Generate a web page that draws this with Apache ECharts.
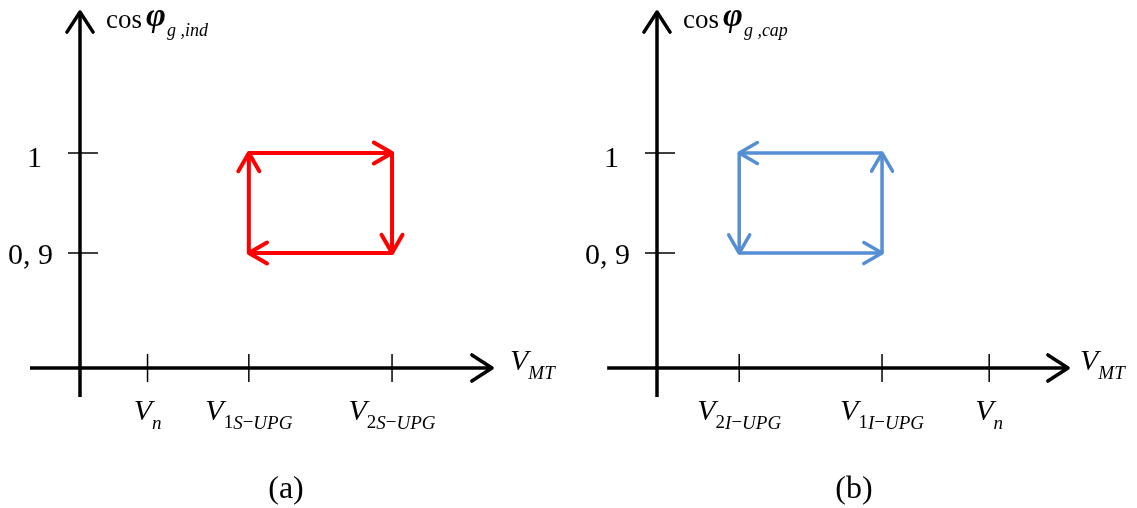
<!DOCTYPE html>
<html>
<head>
<meta charset="utf-8">
<script src="https://cdn.jsdelivr.net/npm/echarts@6/dist/echarts.min.js"></script>
<style>
  html, body { margin: 0; padding: 0; background: #fff; }
  #chart { width: 1137px; height: 508px; }
</style>
</head>
<body>
<div id="chart"></div>
<script>
// Grid-side power factor regulation loops versus MT voltage:
// (a) inductive cos phi, (b) capacitive cos phi.

// ---- data ----
const yTickValues = [0.9, 1];
const yTickLabels = ['0, 9', '1'];

const xTicksInd = [1.0, 2.5, 4.62];
const xLabelsInd = ['{v|V}{i|n}', '{v|V}{n|1}{i|S}{n|\u2212}{i|UPG}', '{v|V}{n|2}{i|S}{n|\u2212}{i|UPG}'];

const xTicksCap = [1.22, 3.34, 4.93];
const xLabelsCap = ['{v|V}{n|2}{i|I}{n|\u2212}{i|UPG}', '{v|V}{n|1}{i|I}{n|\u2212}{i|UPG}', '{v|V}{i|n}'];

// loop corners [voltage, cos phi], traversed in order (arrow at the end of each edge)
const loopInd = [[2.5, 0.9], [2.5, 1], [4.62, 1], [4.62, 0.9]];
const loopCap = [[3.34, 0.9], [3.34, 1], [1.22, 1], [1.22, 0.9]];

// axis extents
const xRange = [0, 6.1];
const yRange = [0.785, 1.141];
const xAxisStart = -0.74;
const yAxisStart = 0.756;

// ---- styling helpers ----
const serif = '"Liberation Serif", "Times New Roman", serif';
const richMath = {
  v: { fontFamily: serif, fontStyle: 'italic', fontSize: 30, lineHeight: 30, padding: [0, 0, 6, 0], verticalAlign: 'bottom', color: '#000' },
  i: { fontFamily: serif, fontStyle: 'italic', fontSize: 19, lineHeight: 19, verticalAlign: 'bottom', color: '#000' },
  n: { fontFamily: serif, fontSize: 19, lineHeight: 19, verticalAlign: 'bottom', color: '#000' }
};
const richY = {
  t: { fontFamily: serif, fontSize: 30, color: '#000', padding: [6, 0, 0, 0] },
  one: { fontFamily: serif, fontSize: 30, color: '#000', padding: [12, 11, 0, 0] }
};
const richName = {
  c: { fontFamily: serif, fontSize: 27, lineHeight: 27, padding: [0, 4, 6, 0], verticalAlign: 'bottom', color: '#000' },
  p: { fontFamily: serif, fontSize: 34, fontStyle: 'italic', fontWeight: 'bold', lineHeight: 34, padding: [0, 1, 6, 0], verticalAlign: 'bottom', color: '#000' },
  s: { fontFamily: serif, fontSize: 18, fontStyle: 'italic', lineHeight: 18, verticalAlign: 'bottom', color: '#000' }
};

function lookup(values, labels) {
  return function (v) {
    for (let k = 0; k < values.length; k++) {
      if (Math.abs(values[k] - v) < 1e-6) return labels[k];
    }
    return '';
  };
}

// line segment with an open chevron head at its end
function arrowRenderer(color, width, head, angleDeg) {
  const ang = angleDeg * Math.PI / 180;
  const c = Math.cos(ang), s = Math.sin(ang);
  return function (params, api) {
    const p1 = api.coord([api.value(0), api.value(1)]);
    const p2 = api.coord([api.value(2), api.value(3)]);
    const dx = p2[0] - p1[0], dy = p2[1] - p1[1];
    const len = Math.sqrt(dx * dx + dy * dy) || 1;
    const ux = dx / len, uy = dy / len;
    const a1 = [p2[0] - head * (ux * c - uy * s), p2[1] - head * (uy * c + ux * s)];
    const a2 = [p2[0] - head * (ux * c + uy * s), p2[1] - head * (uy * c - ux * s)];
    return {
      type: 'group',
      children: [
        { type: 'line', shape: { x1: p1[0], y1: p1[1], x2: p2[0], y2: p2[1] },
          style: { stroke: color, lineWidth: width, lineCap: 'butt' } },
        { type: 'polyline', shape: { points: [a1, p2, a2] },
          style: { stroke: color, fill: null, lineWidth: width, lineJoin: 'round', lineCap: 'round' } }
      ]
    };
  };
}

// short tick crossing an axis
function tickRenderer(dir, before, after) {
  return function (params, api) {
    const p = api.coord([api.value(0), api.value(1)]);
    const shape = dir === 'x'
      ? { x1: p[0], y1: p[1] - before, x2: p[0], y2: p[1] + after }
      : { x1: p[0] - before, y1: p[1], x2: p[0] + after, y2: p[1] };
    return { type: 'line', shape: shape, style: { stroke: '#000', lineWidth: 1.5 } };
  };
}

function loopSegments(loop) {
  return loop.map(function (pt, k) {
    const nx = loop[(k + 1) % loop.length];
    return [pt[0], pt[1], nx[0], nx[1]];
  });
}

function axesData() {
  return [
    [xAxisStart, yRange[0], xRange[1], yRange[0]],
    [xRange[0], yAxisStart, xRange[0], yRange[1]]
  ];
}

function makeXAxis(gridIndex, ticks, labels, nameGap) {
  return {
    gridIndex: gridIndex, type: 'value', min: xRange[0], max: xRange[1],
    axisLine: { show: false }, axisTick: { show: false }, splitLine: { show: false },
    axisLabel: { customValues: ticks, formatter: lookup(ticks, labels), margin: 35, rich: richMath },
    name: '{v|V}{i|MT}', nameLocation: 'end', nameGap: nameGap,
    nameTextStyle: { rich: richMath, align: 'left', verticalAlign: 'middle' }
  };
}

function makeYAxis(gridIndex, sub) {
  const yLabels = yTickLabels.map(function (t) { return t === '1' ? '{one|1}' : '{t|' + t + '}'; });
  return {
    gridIndex: gridIndex, type: 'value', min: yRange[0], max: yRange[1],
    axisLine: { show: false }, axisTick: { show: false }, splitLine: { show: false },
    axisLabel: { customValues: yTickValues, formatter: lookup(yTickValues, yLabels), margin: 27, rich: richY },
    name: '{c|cos}{p|\u03c6}{s|g ,' + sub + '}', nameLocation: 'end', nameGap: 6,
    nameTextStyle: { rich: richName, align: 'left', verticalAlign: 'top', padding: [0, 0, 0, 26] }
  };
}

function panelSeries(idx, ticks, loop, color, lw) {
  return [
    { type: 'custom', xAxisIndex: idx, yAxisIndex: idx, clip: false, silent: true,
      renderItem: arrowRenderer('#000', 3.5, 24, 33), data: axesData(), z: 2 },
    { type: 'custom', xAxisIndex: idx, yAxisIndex: idx, clip: false, silent: true,
      renderItem: tickRenderer('x', 14, 14), data: ticks.map(function (t) { return [t, yRange[0]]; }), z: 2 },
    { type: 'custom', xAxisIndex: idx, yAxisIndex: idx, clip: false, silent: true,
      renderItem: tickRenderer('y', 12, 18), data: yTickValues.map(function (t) { return [xRange[0], t]; }), z: 2 },
    { type: 'custom', xAxisIndex: idx, yAxisIndex: idx, clip: false, silent: true,
      renderItem: arrowRenderer(color, lw, 21, 30), data: loopSegments(loop), z: 3 }
  ];
}

const chart = echarts.init(document.getElementById('chart'), null, { renderer: 'canvas' });
chart.setOption({
  backgroundColor: '#fff',
  animation: false,
  title: [
    { text: '(a)', left: 281, top: 469, textAlign: 'center',
      textStyle: { fontFamily: serif, fontSize: 32, fontWeight: 'normal', color: '#000' } },
    { text: '(b)', left: 849, top: 469, textAlign: 'center',
      textStyle: { fontFamily: serif, fontSize: 32, fontWeight: 'normal', color: '#000' } }
  ],
  grid: [
    { left: 80, top: 12, width: 412, height: 356, containLabel: false, outerBoundsMode: 'none' },
    { left: 657, top: 12, width: 411, height: 356, containLabel: false, outerBoundsMode: 'none' }
  ],
  xAxis: [
    makeXAxis(0, xTicksInd, xLabelsInd, 18),
    makeXAxis(1, xTicksCap, xLabelsCap, 12)
  ],
  yAxis: [
    makeYAxis(0, 'ind'),
    makeYAxis(1, 'cap')
  ],
  series: [].concat(
    panelSeries(0, xTicksInd, loopInd, '#ff0000', 4),
    panelSeries(1, xTicksCap, loopCap, '#558ed5', 3.5)
  )
});
</script>
</body>
</html>
